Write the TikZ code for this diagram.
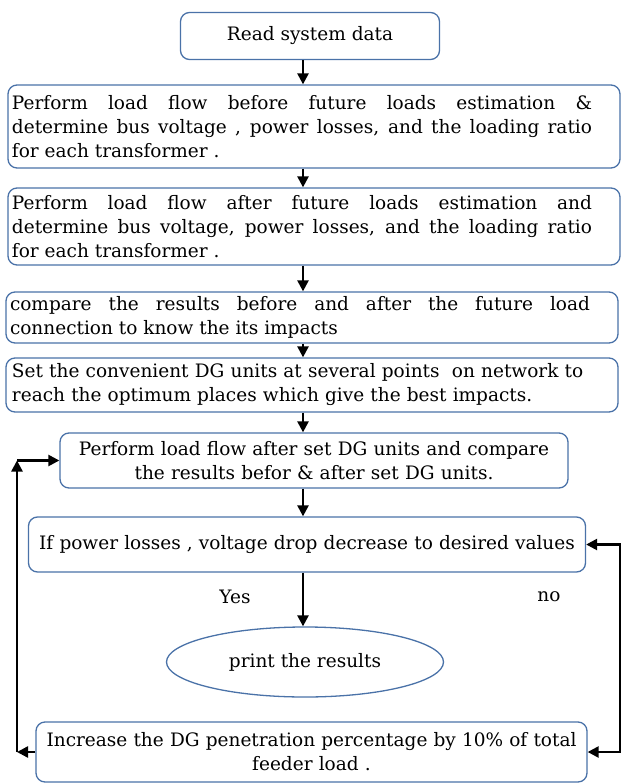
\documentclass[tikz,border=0pt]{standalone}
\usepackage{fontspec}
\setmainfont{DejaVu Serif}
\usetikzlibrary{arrows.meta,shapes.geometric}
\definecolor{boxblue}{HTML}{4A72A8}
\newcommand{\justtext}[1]{\parbox{580pt}{#1}\hspace*{24pt}}
\begin{document}
\begin{tikzpicture}[
    x=1pt, y=-1pt,
    box/.style={draw=boxblue, line width=1.3pt, rounded corners=9pt, inner xsep=6pt, inner ysep=2pt, font=\fontsize{18.5}{24}\selectfont},
    wide/.style={box, inner xsep=4pt},
    flow/.style={line width=2.4pt, -{Triangle[length=11pt,width=11pt]}},
    twoway/.style={line width=2.4pt, {Triangle[length=11pt,width=11pt]}-{Triangle[length=11pt,width=11pt]}},
    tag/.style={font=\fontsize{18.5}{24}\selectfont},
]
    \useasboundingbox (0,0) rectangle (622,783);

    % Process boxes
    \node[box, minimum width=259pt, minimum height=47pt] (read) at (310,36) {Read system data};
    \node[wide, minimum height=83pt] (before) at (314,126.5)
        {\justtext{Perform load flow before future loads estimation \&\linebreak determine bus voltage , power losses, and the loading ratio\linebreak for each transformer .}};
    \node[wide, minimum height=77pt] (after) at (314,226.5)
        {\justtext{Perform load flow after future loads estimation and\linebreak determine bus voltage, power losses, and the loading ratio\linebreak for each transformer .}};
    \node[wide, minimum height=51pt] (compare) at (312,317.5)
        {\justtext{compare the results before and after the future load\linebreak connection to know the its impacts}};
    \node[box, text width=600pt, align=left, minimum height=54pt] (place) at (312,385)
        {Set the convenient DG units at several points ~on network to\\reach the optimum places which give the best impacts.};
    \node[box, text width=496pt, align=center, minimum height=55pt] (dgflow) at (314,460.5)
        {Perform load flow after set DG units and compare\\the results befor \& after set DG units.};
    \node[box, text width=545pt, align=center, minimum height=55pt] (check) at (307,544.5)
        {If power losses , voltage drop decrease to desired values};
    \node[box, ellipse, rounded corners=0pt, minimum width=277pt, minimum height=70pt, inner sep=0pt] (print) at (305,662)
        {print the results};
    \node[box, text width=539pt, align=center, minimum height=60pt] (incr) at (311.5,752)
        {Increase the DG penetration percentage by 10\% of total\\feeder load .};

    % Branch labels
    \node[tag] (yes) at (235,597) {Yes};
    \node[tag] (no) at (549,597) {no};

    % Main flow
    \coordinate (spine) at (303,0);
    \foreach \a/\b in {read/before, before/after, after/compare, compare/place, place/dgflow, dgflow/check, check/print} {
        \draw[flow] (\a.south -| spine) -- (\b.north -| spine);
    }

    % Loops
    \coordinate (leftx) at (17,0);
    \coordinate (rightx) at (620,0);
    \draw[twoway] (check.east) -- (check.east -| rightx) |- (incr.east);
    \draw[flow] (incr.west) -- (incr.west -| leftx);
    \draw[flow] (incr.west -| leftx) -- (leftx |- dgflow.west);
    \draw[flow] (leftx |- dgflow.west) -- (dgflow.west);

\end{tikzpicture}
\end{document}
